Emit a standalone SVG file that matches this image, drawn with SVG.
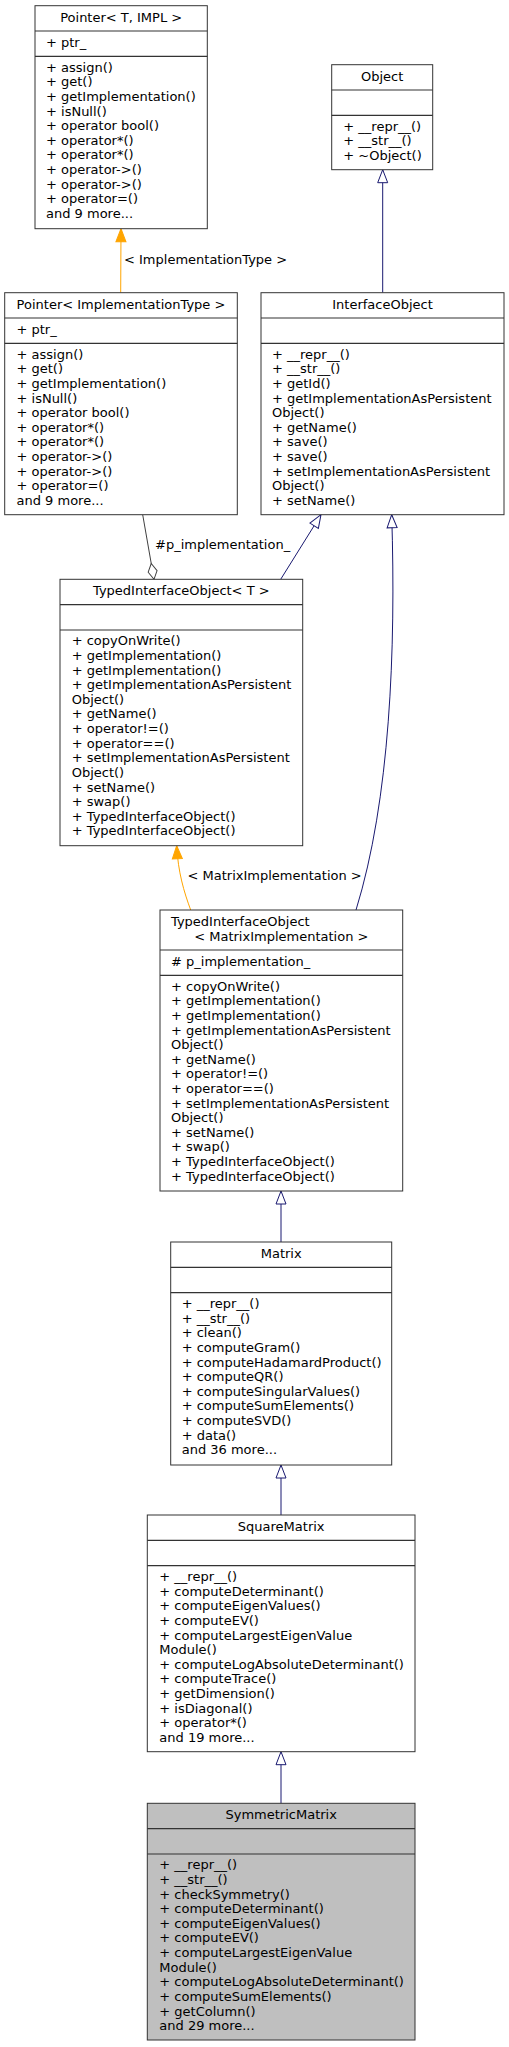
<svg xmlns="http://www.w3.org/2000/svg" width="509" height="2047" viewBox="0 0 509 2047">
<style>
text{font-family:"DejaVu Sans","Liberation Sans",sans-serif;font-size:13px;fill:#000}
.c{text-anchor:middle}
.box{fill:#fff;stroke:#333;stroke-width:1}
.hl{fill:#bfbfbf}
.dv{stroke:#333;stroke-width:1.2}
.inh{stroke:#191970;fill:none;stroke-width:1;marker-end:url(#hollow)}
.tpl{stroke:#ffa500;fill:none;stroke-width:1;marker-end:url(#filled)}
.use{stroke:#404040;fill:none;stroke-width:1;marker-end:url(#diamond)}
</style>
<defs>
<marker id="hollow" markerUnits="userSpaceOnUse" viewBox="-1 -1 15 12" markerWidth="15" markerHeight="12" refX="13" refY="5" orient="auto" overflow="visible"><path d="M0,0 L13,5 L0,10 Z" fill="#fff" stroke="#191970"/></marker>
<marker id="filled" markerUnits="userSpaceOnUse" viewBox="-1 -1 15 12" markerWidth="15" markerHeight="12" refX="13" refY="5" orient="auto" overflow="visible"><path d="M0,0 L13,5 L0,10 Z" fill="#ffa500" stroke="#ffa500"/></marker>
<marker id="diamond" markerUnits="userSpaceOnUse" viewBox="-1 -1 19 12" markerWidth="19" markerHeight="12" refX="16" refY="5" orient="auto" overflow="visible"><path d="M0,5 L8,0.5 L16,5 L8,9.5 Z" fill="#fff" stroke="#404040"/></marker>
</defs>
<rect width="509" height="2047" fill="#fff"/>

<g id="connectors">
<path class="inh" d="M382.7,292.7 L382.7,169.7"/>
<path class="inh" d="M280.7,579.3 L321,514.7"/>
<path class="inh" d="M356,910 C390,800 396,650 391.7,514.7"/>
<path class="tpl" d="M120.7,292.7 L121,228.7"/>
<text x="124" y="264">&lt; ImplementationType &gt;</text>
<path class="tpl" d="M190.7,910 C184,892 178,872 176.7,845.7"/>
<text x="187.5" y="880">&lt; MatrixImplementation &gt;</text>
<path class="use" d="M142.7,514.7 L154,579.3"/>
<text x="155" y="549">#p_implementation_</text>
<path class="inh" d="M281,1242 L281,1191"/>
<path class="inh" d="M281,1515 L281,1465"/>
<path class="inh" d="M281,1803.3 L281,1751.7"/>
</g>

<g id="PointerTIMPL">
<rect class="box" x="35" y="5.7" width="172.3" height="223"/>
<line class="dv" x1="35" y1="31" x2="207.3" y2="31"/>
<line class="dv" x1="35" y1="56.4" x2="207.3" y2="56.4"/>
<text class="c" x="121.2" y="21.7">Pointer&lt; T, IMPL &gt;</text>
<text x="46" y="47">+ ptr_</text>
<text x="46" y="71.7">+ assign()</text>
<text x="46" y="86.3">+ get()</text>
<text x="46" y="100.9">+ getImplementation()</text>
<text x="46" y="115.6">+ isNull()</text>
<text x="46" y="130.2">+ operator bool()</text>
<text x="46" y="144.8">+ operator*()</text>
<text x="46" y="159.4">+ operator*()</text>
<text x="46" y="174">+ operator-&gt;()</text>
<text x="46" y="188.7">+ operator-&gt;()</text>
<text x="46" y="203.3">+ operator=()</text>
<text x="46" y="217.9">and 9 more...</text>
</g>

<g id="Object">
<rect class="box" x="331.7" y="64.7" width="101" height="105"/>
<line class="dv" x1="331.7" y1="90" x2="432.7" y2="90"/>
<line class="dv" x1="331.7" y1="115.4" x2="432.7" y2="115.4"/>
<text class="c" x="382.2" y="80.7">Object</text>
<text x="343.3" y="130.7">+ __repr__()</text>
<text x="343.3" y="145.3">+ __str__()</text>
<text x="343.3" y="159.9">+ ~Object()</text>
</g>

<g id="PointerImplementationType">
<rect class="box" x="4.7" y="292.7" width="232.6" height="222"/>
<line class="dv" x1="4.7" y1="318" x2="237.3" y2="318"/>
<line class="dv" x1="4.7" y1="343.4" x2="237.3" y2="343.4"/>
<text class="c" x="121" y="308.7">Pointer&lt; ImplementationType &gt;</text>
<text x="16.5" y="334">+ ptr_</text>
<text x="16.5" y="358.7">+ assign()</text>
<text x="16.5" y="373.3">+ get()</text>
<text x="16.5" y="387.9">+ getImplementation()</text>
<text x="16.5" y="402.6">+ isNull()</text>
<text x="16.5" y="417.2">+ operator bool()</text>
<text x="16.5" y="431.8">+ operator*()</text>
<text x="16.5" y="446.4">+ operator*()</text>
<text x="16.5" y="461">+ operator-&gt;()</text>
<text x="16.5" y="475.7">+ operator-&gt;()</text>
<text x="16.5" y="490.3">+ operator=()</text>
<text x="16.5" y="504.9">and 9 more...</text>
</g>

<g id="InterfaceObject">
<rect class="box" x="261" y="292.7" width="243" height="222"/>
<line class="dv" x1="261" y1="318" x2="504" y2="318"/>
<line class="dv" x1="261" y1="343.4" x2="504" y2="343.4"/>
<text class="c" x="382.5" y="308.7">InterfaceObject</text>
<text x="272" y="358.7">+ __repr__()</text>
<text x="272" y="373.3">+ __str__()</text>
<text x="272" y="387.9">+ getId()</text>
<text x="272" y="402.6">+ getImplementationAsPersistent</text>
<text x="272" y="417.2">Object()</text>
<text x="272" y="431.8">+ getName()</text>
<text x="272" y="446.4">+ save()</text>
<text x="272" y="461">+ save()</text>
<text x="272" y="475.7">+ setImplementationAsPersistent</text>
<text x="272" y="490.3">Object()</text>
<text x="272" y="504.9">+ setName()</text>
</g>

<g id="TypedInterfaceObjectT">
<rect class="box" x="60" y="579.3" width="242.7" height="266.4"/>
<line class="dv" x1="60" y1="604.6" x2="302.7" y2="604.6"/>
<line class="dv" x1="60" y1="630" x2="302.7" y2="630"/>
<text class="c" x="181.3" y="595.3">TypedInterfaceObject&lt; T &gt;</text>
<text x="71.7" y="645.3">+ copyOnWrite()</text>
<text x="71.7" y="659.9">+ getImplementation()</text>
<text x="71.7" y="674.5">+ getImplementation()</text>
<text x="71.7" y="689.2">+ getImplementationAsPersistent</text>
<text x="71.7" y="703.8">Object()</text>
<text x="71.7" y="718.4">+ getName()</text>
<text x="71.7" y="733">+ operator!=()</text>
<text x="71.7" y="747.6">+ operator==()</text>
<text x="71.7" y="762.3">+ setImplementationAsPersistent</text>
<text x="71.7" y="776.9">Object()</text>
<text x="71.7" y="791.5">+ setName()</text>
<text x="71.7" y="806.1">+ swap()</text>
<text x="71.7" y="820.8">+ TypedInterfaceObject()</text>
<text x="71.7" y="835.4">+ TypedInterfaceObject()</text>
</g>

<g id="TypedInterfaceObjectMatrixImplementation">
<rect class="box" x="160" y="910" width="242.7" height="281"/>
<line class="dv" x1="160" y1="950" x2="402.7" y2="950"/>
<line class="dv" x1="160" y1="975.3" x2="402.7" y2="975.3"/>
<text x="171" y="926">TypedInterfaceObject</text>
<text class="c" x="281.3" y="940.7">&lt; MatrixImplementation &gt;</text>
<text x="171" y="966">#  p_implementation_</text>
<text x="171" y="990.6">+ copyOnWrite()</text>
<text x="171" y="1005.2">+ getImplementation()</text>
<text x="171" y="1019.8">+ getImplementation()</text>
<text x="171" y="1034.5">+ getImplementationAsPersistent</text>
<text x="171" y="1049.1">Object()</text>
<text x="171" y="1063.7">+ getName()</text>
<text x="171" y="1078.3">+ operator!=()</text>
<text x="171" y="1092.9">+ operator==()</text>
<text x="171" y="1107.6">+ setImplementationAsPersistent</text>
<text x="171" y="1122.2">Object()</text>
<text x="171" y="1136.8">+ setName()</text>
<text x="171" y="1151.4">+ swap()</text>
<text x="171" y="1166.1">+ TypedInterfaceObject()</text>
<text x="171" y="1180.7">+ TypedInterfaceObject()</text>
</g>

<g id="Matrix">
<rect class="box" x="170.7" y="1242" width="221" height="223"/>
<line class="dv" x1="170.7" y1="1267.3" x2="391.7" y2="1267.3"/>
<line class="dv" x1="170.7" y1="1292.7" x2="391.7" y2="1292.7"/>
<text class="c" x="281.2" y="1258">Matrix</text>
<text x="181.7" y="1308">+ __repr__()</text>
<text x="181.7" y="1322.6">+ __str__()</text>
<text x="181.7" y="1337.2">+ clean()</text>
<text x="181.7" y="1351.9">+ computeGram()</text>
<text x="181.7" y="1366.5">+ computeHadamardProduct()</text>
<text x="181.7" y="1381.1">+ computeQR()</text>
<text x="181.7" y="1395.7">+ computeSingularValues()</text>
<text x="181.7" y="1410.3">+ computeSumElements()</text>
<text x="181.7" y="1425">+ computeSVD()</text>
<text x="181.7" y="1439.6">+ data()</text>
<text x="181.7" y="1454.2">and 36 more...</text>
</g>

<g id="SquareMatrix">
<rect class="box" x="147.3" y="1515" width="267.7" height="236.7"/>
<line class="dv" x1="147.3" y1="1540.3" x2="415" y2="1540.3"/>
<line class="dv" x1="147.3" y1="1565.7" x2="415" y2="1565.7"/>
<text class="c" x="281.2" y="1531">SquareMatrix</text>
<text x="159.3" y="1581">+ __repr__()</text>
<text x="159.3" y="1595.6">+ computeDeterminant()</text>
<text x="159.3" y="1610.2">+ computeEigenValues()</text>
<text x="159.3" y="1624.9">+ computeEV()</text>
<text x="159.3" y="1639.5">+ computeLargestEigenValue</text>
<text x="159.3" y="1654.1">Module()</text>
<text x="159.3" y="1668.7">+ computeLogAbsoluteDeterminant()</text>
<text x="159.3" y="1683.3">+ computeTrace()</text>
<text x="159.3" y="1698">+ getDimension()</text>
<text x="159.3" y="1712.6">+ isDiagonal()</text>
<text x="159.3" y="1727.2">+ operator*()</text>
<text x="159.3" y="1741.8">and 19 more...</text>
</g>

<g id="SymmetricMatrix">
<rect class="box hl" x="147.3" y="1803.3" width="267.7" height="236.7"/>
<line class="dv" x1="147.3" y1="1828.6" x2="415" y2="1828.6"/>
<line class="dv" x1="147.3" y1="1854" x2="415" y2="1854"/>
<text class="c" x="281.2" y="1819.3">SymmetricMatrix</text>
<text x="159.3" y="1869.3">+ __repr__()</text>
<text x="159.3" y="1883.9">+ __str__()</text>
<text x="159.3" y="1898.5">+ checkSymmetry()</text>
<text x="159.3" y="1913.2">+ computeDeterminant()</text>
<text x="159.3" y="1927.8">+ computeEigenValues()</text>
<text x="159.3" y="1942.4">+ computeEV()</text>
<text x="159.3" y="1957">+ computeLargestEigenValue</text>
<text x="159.3" y="1971.6">Module()</text>
<text x="159.3" y="1986.3">+ computeLogAbsoluteDeterminant()</text>
<text x="159.3" y="2000.9">+ computeSumElements()</text>
<text x="159.3" y="2015.5">+ getColumn()</text>
<text x="159.3" y="2030.1">and 29 more...</text>
</g>
</svg>
